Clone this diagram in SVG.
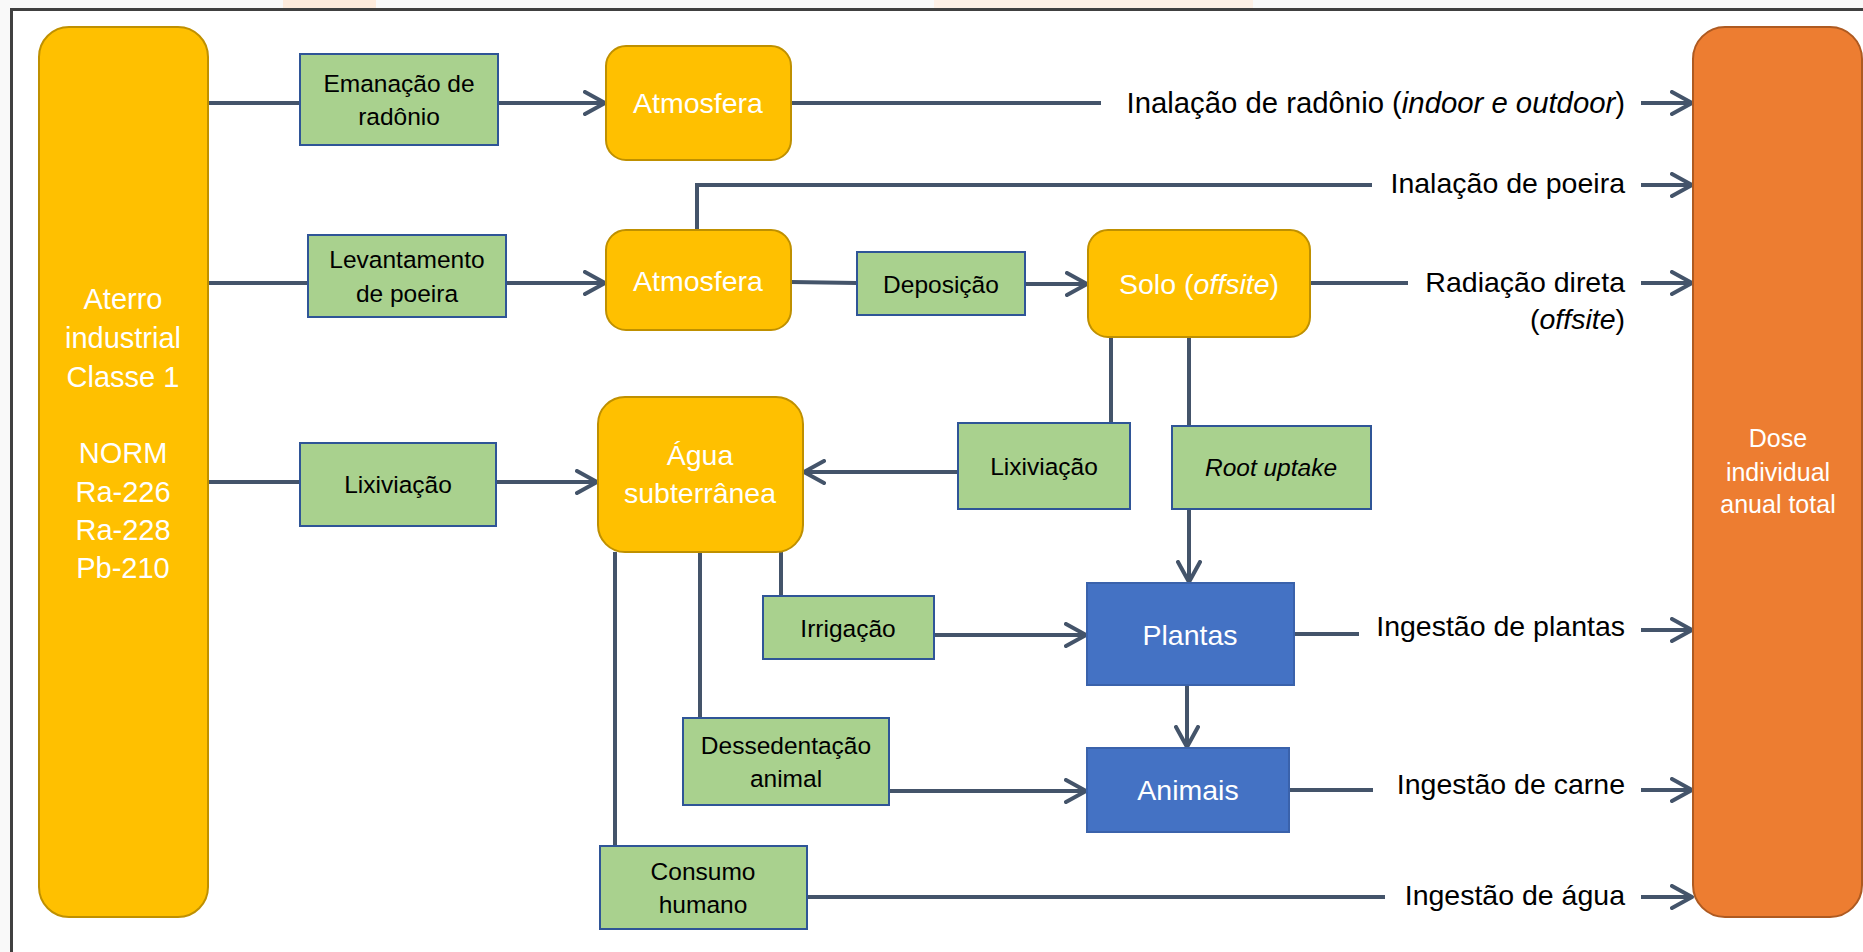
<svg xmlns="http://www.w3.org/2000/svg" width="1863" height="952" viewBox="0 0 1863 952">
<style>
.frame{stroke:#404040;stroke-width:3;fill:none}
.org{fill:#FFC000;stroke:#BF9000;stroke-width:2}
.grn{fill:#A9D18E;stroke:#2F5597;stroke-width:2}
.blu{fill:#4472C4;stroke:#3A62AB;stroke-width:2}
.dose{fill:#ED7D31;stroke:#AE5A21;stroke-width:2}
.wt{font-family:"Liberation Sans",Arial,sans-serif;font-size:28.5px;fill:#FFFFFF;text-anchor:middle}
.bk{font-family:"Liberation Sans",Arial,sans-serif;font-size:24.5px;fill:#000000;text-anchor:middle}
.lb{font-family:"Liberation Sans",Arial,sans-serif;font-size:28.5px;fill:#000000;text-anchor:end}
.it{font-style:italic}
.cn{stroke:#44546A;stroke-width:4;fill:none}
.ar{marker-end:url(#chev)}
</style>
<defs>
<marker id="chev" viewBox="0 0 26 26" markerUnits="userSpaceOnUse" markerWidth="26" markerHeight="26" refX="22" refY="13" orient="auto">
<path d="M2,2 L22,13 L2,24" fill="none" stroke="#44546A" stroke-width="4" stroke-linecap="round" stroke-linejoin="round"/>
</marker>
</defs>
<rect x="0" y="0" width="1863" height="952" fill="#F9F9F9"/>
<rect x="283" y="0" width="93" height="9" fill="#FDEBDC"/>
<rect x="934" y="0" width="319" height="9" fill="#FDF0E6"/>
<rect x="12" y="10" width="1851" height="942" fill="#FFFFFF"/>
<path class="frame" d="M11.5,952 L11.5,9.5 L1863,9.5"/>

<g id="connectors">
<line class="cn" x1="208" y1="103" x2="300" y2="103"/>
<line class="cn ar" x1="498" y1="103" x2="605" y2="103"/>
<line class="cn" x1="791" y1="103" x2="1101" y2="103"/>
<line class="cn ar" x1="1641" y1="103" x2="1692" y2="103"/>
<polyline class="cn" points="697,230 697,185 1372,185"/>
<line class="cn ar" x1="1641" y1="185" x2="1692" y2="185"/>
<line class="cn" x1="208" y1="283" x2="308" y2="283"/>
<line class="cn ar" x1="506" y1="283" x2="605" y2="283"/>
<line class="cn" x1="791" y1="282" x2="857" y2="283"/>
<line class="cn ar" x1="1025" y1="284" x2="1087" y2="284"/>
<line class="cn" x1="1310" y1="283" x2="1408" y2="283"/>
<line class="cn ar" x1="1641" y1="283" x2="1692" y2="283"/>
<line class="cn" x1="208" y1="482" x2="300" y2="482"/>
<line class="cn ar" x1="496" y1="482" x2="597" y2="482"/>
<line class="cn" x1="1111" y1="337" x2="1111" y2="423"/>
<line class="cn ar" x1="958" y1="472" x2="804" y2="472"/>
<line class="cn" x1="1189" y1="337" x2="1189" y2="426"/>
<line class="cn ar" x1="1189" y1="509" x2="1189" y2="582"/>
<line class="cn" x1="781" y1="552" x2="781" y2="596"/>
<line class="cn ar" x1="934" y1="635" x2="1086" y2="635"/>
<line class="cn" x1="1294" y1="634" x2="1359" y2="634"/>
<line class="cn ar" x1="1641" y1="630" x2="1692" y2="630"/>
<line class="cn" x1="700" y1="552" x2="700" y2="718"/>
<line class="cn ar" x1="889" y1="791" x2="1086" y2="791"/>
<line class="cn ar" x1="1187" y1="685" x2="1187" y2="747"/>
<line class="cn" x1="1290" y1="790" x2="1373" y2="790"/>
<line class="cn ar" x1="1641" y1="790" x2="1692" y2="790"/>
<line class="cn" x1="615" y1="552" x2="615" y2="846"/>
<line class="cn" x1="807" y1="897" x2="1385" y2="897"/>
<line class="cn ar" x1="1641" y1="897" x2="1692" y2="897"/>
</g>

<g id="aterro">
<rect class="org" x="39" y="27" width="169" height="890" rx="30"/>
<text class="wt" style="font-size:29px" x="123" y="309">Aterro</text>
<text class="wt" style="font-size:29px" x="123" y="348">industrial</text>
<text class="wt" style="font-size:29px" x="123" y="387">Classe 1</text>
<text class="wt" style="font-size:29px" x="123" y="463">NORM</text>
<text class="wt" style="font-size:29px" x="123" y="502">Ra-226</text>
<text class="wt" style="font-size:29px" x="123" y="540">Ra-228</text>
<text class="wt" style="font-size:29px" x="123" y="578">Pb-210</text>
</g>

<g id="emanacao">
<rect class="grn" x="300" y="54" width="198" height="91"/>
<text class="bk" x="399" y="92">Emanação de</text>
<text class="bk" x="399" y="125">radônio</text>
</g>

<g id="atmosfera1">
<rect class="org" x="606" y="46" width="185" height="114" rx="20"/>
<text class="wt" x="698" y="113">Atmosfera</text>
</g>

<g id="levantamento">
<rect class="grn" x="308" y="235" width="198" height="82"/>
<text class="bk" x="407" y="268">Levantamento</text>
<text class="bk" x="407" y="302">de poeira</text>
</g>

<g id="atmosfera2">
<rect class="org" x="606" y="230" width="185" height="100" rx="20"/>
<text class="wt" x="698" y="291">Atmosfera</text>
</g>

<g id="deposicao">
<rect class="grn" x="857" y="252" width="168" height="63"/>
<text class="bk" x="941" y="293">Deposição</text>
</g>

<g id="solo">
<rect class="org" x="1088" y="230" width="222" height="107" rx="20"/>
<text class="wt" x="1199" y="294">Solo (<tspan class="it">offsite</tspan>)</text>
</g>

<g id="lixiviacao1">
<rect class="grn" x="300" y="443" width="196" height="83"/>
<text class="bk" x="398" y="493">Lixiviação</text>
</g>

<g id="agua">
<rect class="org" x="598" y="397" width="205" height="155" rx="27"/>
<text class="wt" x="700" y="465">Água</text>
<text class="wt" x="700" y="503">subterrânea</text>
</g>

<g id="lixiviacao2">
<rect class="grn" x="958" y="423" width="172" height="86"/>
<text class="bk" x="1044" y="475">Lixiviação</text>
</g>

<g id="rootuptake">
<rect class="grn" x="1172" y="426" width="199" height="83"/>
<text class="bk it" x="1271" y="476">Root uptake</text>
</g>

<g id="irrigacao">
<rect class="grn" x="763" y="596" width="171" height="63"/>
<text class="bk" x="848" y="637">Irrigação</text>
</g>

<g id="plantas">
<rect class="blu" x="1087" y="583" width="207" height="102"/>
<text class="wt" x="1190" y="645">Plantas</text>
</g>

<g id="dessedentacao">
<rect class="grn" x="683" y="718" width="206" height="87"/>
<text class="bk" x="786" y="754">Dessedentação</text>
<text class="bk" x="786" y="787">animal</text>
</g>

<g id="animais">
<rect class="blu" x="1087" y="748" width="202" height="84"/>
<text class="wt" x="1188" y="800">Animais</text>
</g>

<g id="consumo">
<rect class="grn" x="600" y="846" width="207" height="83"/>
<text class="bk" x="703" y="880">Consumo</text>
<text class="bk" x="703" y="913">humano</text>
</g>

<g id="labels">
<text class="lb" style="font-size:29.3px" x="1625" y="113">Inalação de radônio (<tspan class="it">indoor e outdoor</tspan>)</text>
<text class="lb" x="1625" y="193">Inalação de poeira</text>
<text class="lb" x="1625" y="292">Radiação direta</text>
<text class="lb" x="1625" y="329">(<tspan class="it">offsite</tspan>)</text>
<text class="lb" x="1625" y="636">Ingestão de plantas</text>
<text class="lb" x="1625" y="794">Ingestão de carne</text>
<text class="lb" x="1625" y="905">Ingestão de água</text>
</g>

<g id="dose">
<rect class="dose" x="1693" y="27" width="169" height="890" rx="32"/>
<text class="wt" style="font-size:25px" x="1778" y="447">Dose</text>
<text class="wt" style="font-size:25px" x="1778" y="481">individual</text>
<text class="wt" style="font-size:25px" x="1778" y="513">anual total</text>
</g>
</svg>
